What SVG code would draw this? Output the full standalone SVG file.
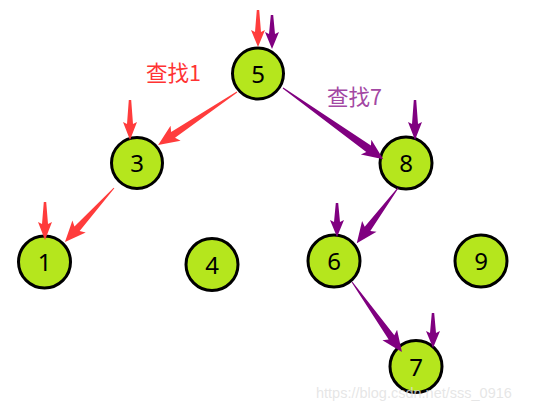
<svg xmlns="http://www.w3.org/2000/svg" width="539" height="411" viewBox="0 0 539 411">
<style>
.node circle{fill:#b5e61d;stroke:#000;stroke-width:3}
.node text{font-family:"Noto Sans","Noto Sans CJK SC",sans-serif;font-size:24px;text-anchor:middle;fill:#000}
.red{fill:#ff3c3c}
.pur{fill:#800080}
.lbl{font-family:"Noto Sans CJK SC","Noto Sans",sans-serif;font-size:21.5px}
</style>
<rect width="539" height="411" fill="#fff"/>
<text x="146" y="81" class="lbl" fill="#ff3333">查找1</text>
<text x="327" y="105" class="lbl" fill="#a347a3">查找7</text>
<g id="n5" class="node"><circle cx="258" cy="73.5" r="25.5"/><text x="258" y="82.5">5</text></g>
<g id="n3" class="node"><circle cx="137" cy="163" r="25.5"/><text x="137" y="172">3</text></g>
<g id="n1" class="node"><circle cx="44.5" cy="262" r="26"/><text x="44.5" y="271">1</text></g>
<g id="n4" class="node"><circle cx="212" cy="264.5" r="26"/><text x="212" y="273.5">4</text></g>
<g id="n8" class="node"><circle cx="406" cy="163" r="26"/><text x="406" y="172">8</text></g>
<g id="n6" class="node"><circle cx="334" cy="261" r="26"/><text x="334" y="270">6</text></g>
<g id="n9" class="node"><circle cx="481" cy="261" r="26"/><text x="481" y="270">9</text></g>
<g id="n7" class="node"><circle cx="416" cy="366.5" r="26"/><text x="416" y="375.5">7</text></g>
<g id="connectors">
<polygon class="red" transform="translate(258,10) rotate(90)" points="0,-1.2 22,-3 20,-7 37,0 20,7 22,3 0,1.2"/>
<polygon class="pur" transform="translate(272,15) rotate(90)" points="0,-1.2 19,-3 17,-7 34,0 17,7 19,3 0,1.2"/>
<polygon class="red" transform="translate(237,92) rotate(146.1)" points="0,-0.5 77,-3.5 74,-9 95,0 74,9 77,3.5 0,0.5"/>
<polygon class="red" transform="translate(130,100) rotate(90)" points="0,-1.2 24,-3 22,-7 40,0 22,7 24,3 0,1.2"/>
<polygon class="red" transform="translate(114,188) rotate(132.2)" points="0,-0.5 55,-3.5 52,-9 73,0 52,9 55,3.5 0,0.5"/>
<polygon class="red" transform="translate(45,202) rotate(90)" points="0,-1.2 22,-3 20,-7 38,0 20,7 22,3 0,1.2"/>
<polygon class="pur" transform="translate(283,88) rotate(35.4)" points="0,-0.5 105,-4 102,-9 123,0 102,9 105,4 0,0.5"/>
<polygon class="pur" transform="translate(415,100) rotate(90)" points="0,-1.2 24,-3 22,-7 40,0 22,7 24,3 0,1.2"/>
<polygon class="pur" transform="translate(398,188) rotate(126.7)" points="0,-0.5 51,-3.5 48,-9 69,0 48,9 51,3.5 0,0.5"/>
<polygon class="pur" transform="translate(337,203) rotate(90)" points="0,-1.2 19,-3 17,-7 34,0 17,7 19,3 0,1.2"/>
<polygon class="pur" transform="translate(352,282) rotate(54.5)" points="0,-0.5 68,-3.5 65,-9 86,0 65,9 68,3.5 0,0.5"/>
<polygon class="pur" transform="translate(433,313) rotate(90)" points="0,-1.2 20,-3 18,-7 35,0 18,7 20,3 0,1.2"/>
</g>
<text x="316" y="398" font-family="Liberation Sans, Arial, sans-serif" font-size="14.5" fill="#e0e0e0" fill-opacity="0.8">https://blog.csdn.net/sss_0916</text>
</svg>
